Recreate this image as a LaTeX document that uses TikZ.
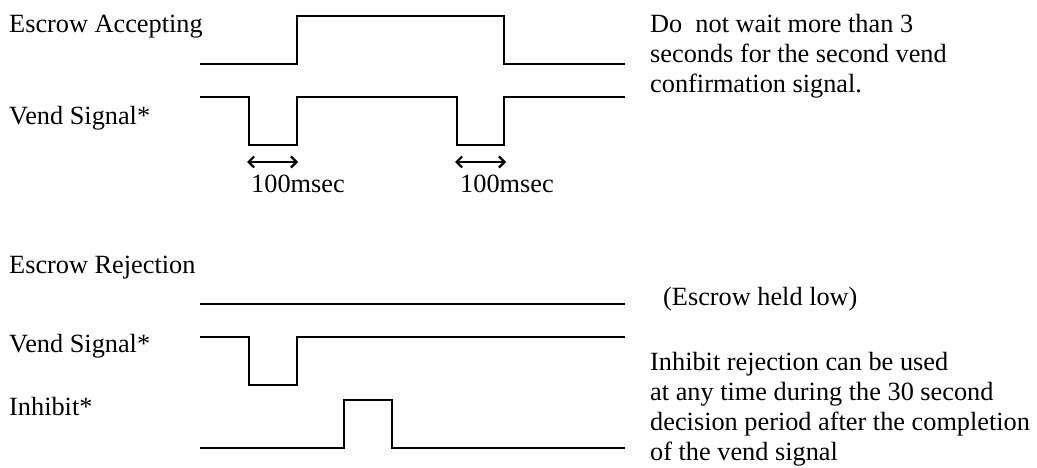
\documentclass[tikz,border=0pt]{standalone}
\usepackage{fontspec}
\setmainfont{Liberation Serif}
\usepackage{tikz}
\usetikzlibrary{positioning,arrows.meta}

\begin{document}
\begin{tikzpicture}[x=1pt, y=-1pt, line join=miter,
    every node/.style={font=\fontsize{26.3}{30}\selectfont, anchor=base west, inner sep=0pt},
    wave/.style={line width=2.3pt},
    span/.style={line width=2.2pt, {Straight Barb[length=5.5pt,width=11pt]}-{Straight Barb[length=5.5pt,width=11pt]}},
    note/.style={align=left}]
  \useasboundingbox (0,0) rectangle (1037,468);

  % escrow accepting
  \node (acc) at (9,33)    {Escrow Accepting};
  \node (vs1) at (9,125)   {Vend Signal*};
  \draw[wave] (200,64) -- (297,64) -- (297,16) -- (504,16) -- (504,64) -- (625,64);
  \draw[wave] (200,97) -- (249,97) -- (249,145) -- (297,145) -- (297,97) -- (457,97)
              -- (457,145) -- (504,145) -- (504,97) -- (625,97);
  \coordinate (p1a) at (247,162); \coordinate (p1b) at (298,162);
  \coordinate (p2a) at (455,162); \coordinate (p2b) at (506,162);
  \draw[span] (p1a) -- (p1b);
  \draw[span] (p2a) -- (p2b);
  \node (t1) at (251,193)  {100msec};
  \node (t2) at (460,193)  {100msec};
  % base of a multi-line node is its last line
  \node[note] (wait) at (650,93) {Do\ \ not wait more than 3\\seconds for the second vend\\confirmation signal.};

  % escrow rejection
  \node (rej) at (9,273)   {Escrow Rejection};
  \node (vs2) at (9,352)   {Vend Signal*};
  \node (inh) at (9,415)   {Inhibit*};
  \draw[wave] (200,304) -- (625,304);
  \draw[wave] (200,337) -- (249,337) -- (249,385) -- (297,385) -- (297,337) -- (625,337);
  \draw[wave] (200,448) -- (344,448) -- (344,400) -- (392,400) -- (392,448) -- (625,448);
  \node (low) at (663,305) {(Escrow held low)};
  \node[note] (rule) at (650,460) {Inhibit rejection can be used\\at any time during the 30 second\\decision period after the completion\\of the vend signal};
\end{tikzpicture}
\end{document}
